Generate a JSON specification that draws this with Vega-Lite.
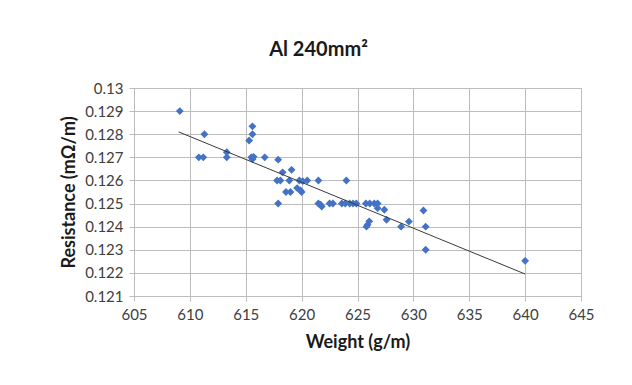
{
  "$schema": "https://vega.github.io/schema/vega-lite/v6.json",
  "autosize": "none",
  "width": 447,
  "height": 208,
  "padding": {"left": 134, "top": 88, "right": 51, "bottom": 89},
  "background": "white",
  "title": {
    "text": "Al 240mm²",
    "font": "Lato",
    "fontSize": 20,
    "fontWeight": "bold",
    "color": "#1a1a1a",
    "anchor": "middle",
    "dx": -39,
    "offset": 21
  },
  "datasets": {
    "pts": [
      {"w": 609.1, "r": 0.1290},
      {"w": 611.3, "r": 0.1280},
      {"w": 610.8, "r": 0.1270},
      {"w": 611.2, "r": 0.1270},
      {"w": 613.3, "r": 0.12722},
      {"w": 613.3, "r": 0.1270},
      {"w": 615.3, "r": 0.12773},
      {"w": 615.6, "r": 0.12834},
      {"w": 615.6, "r": 0.1280},
      {"w": 615.5, "r": 0.1270},
      {"w": 615.6, "r": 0.12692},
      {"w": 615.7, "r": 0.12702},
      {"w": 616.7, "r": 0.1270},
      {"w": 617.9, "r": 0.1269},
      {"w": 617.9, "r": 0.1250},
      {"w": 618.3, "r": 0.12635},
      {"w": 619.1, "r": 0.12646},
      {"w": 617.8, "r": 0.1260},
      {"w": 618.1, "r": 0.1260},
      {"w": 618.9, "r": 0.1260},
      {"w": 619.8, "r": 0.1260},
      {"w": 620.1, "r": 0.12597},
      {"w": 620.5, "r": 0.1260},
      {"w": 618.6, "r": 0.1255},
      {"w": 619.0, "r": 0.1255},
      {"w": 619.6, "r": 0.12567},
      {"w": 619.9, "r": 0.12557},
      {"w": 620.0, "r": 0.1255},
      {"w": 621.5, "r": 0.1260},
      {"w": 621.5, "r": 0.1250},
      {"w": 621.7, "r": 0.12495},
      {"w": 621.8, "r": 0.12487},
      {"w": 622.5, "r": 0.1250},
      {"w": 622.8, "r": 0.1250},
      {"w": 623.6, "r": 0.1250},
      {"w": 623.9, "r": 0.1250},
      {"w": 624.0, "r": 0.1260},
      {"w": 624.3, "r": 0.1250},
      {"w": 624.6, "r": 0.1250},
      {"w": 624.9, "r": 0.1250},
      {"w": 625.75, "r": 0.1250},
      {"w": 626.1, "r": 0.1250},
      {"w": 626.5, "r": 0.1250},
      {"w": 626.8, "r": 0.1250},
      {"w": 626.8, "r": 0.1248},
      {"w": 627.4, "r": 0.12473},
      {"w": 626.05, "r": 0.12423},
      {"w": 625.9, "r": 0.12408},
      {"w": 625.8, "r": 0.1240},
      {"w": 627.6, "r": 0.1243},
      {"w": 628.9, "r": 0.1240},
      {"w": 629.6, "r": 0.12422},
      {"w": 630.9, "r": 0.1247},
      {"w": 631.1, "r": 0.1240},
      {"w": 631.1, "r": 0.1230},
      {"w": 640.0, "r": 0.12252}
    ],
    "trend": [
      {"w": 609.0, "r": 0.12810},
      {"w": 640.0, "r": 0.12195}
    ]
  },
  "encoding": {
    "x": {"field": "w", "type": "quantitative", "title": "Weight (g/m)",
          "scale": {"domain": [605, 645], "nice": false, "zero": false},
          "axis": {"values": [605, 610, 615, 620, 625, 630, 635, 640, 645], "format": "d"}},
    "y": {"field": "r", "type": "quantitative", "title": "Resistance (mΩ/m)",
          "scale": {"domain": [0.121, 0.13], "nice": false, "zero": false},
          "axis": {"values": [0.121, 0.122, 0.123, 0.124, 0.125, 0.126, 0.127, 0.128, 0.129, 0.13], "format": ".3~f"}}
  },
  "layer": [
    {
      "data": {"name": "pts"},
      "mark": {"type": "point", "shape": "diamond", "filled": true, "size": 62, "color": "#4472c4", "opacity": 1}
    },
    {
      "data": {"name": "trend"},
      "mark": {"type": "line", "color": "#3a3a3a", "strokeWidth": 1}
    }
  ],
  "config": {
    "view": {"stroke": "#bdbdbd", "strokeWidth": 1},
    "axis": {
      "grid": true,
      "gridColor": "#bdbdbd",
      "gridOpacity": 1,
      "domainColor": "#bdbdbd",
      "tickColor": "#bdbdbd",
      "tickSize": 5,
      "labelFont": "Lato",
      "labelFontSize": 15,
      "labelColor": "#404040",
      "labelOverlap": false,
      "labelFlush": false,
      "titleFont": "Lato",
      "titleFontSize": 18,
      "titleFontWeight": "bold",
      "titleColor": "#1a1a1a"
    },
    "axisX": {"labelPadding": 6, "titlePadding": 11},
    "axisY": {"labelPadding": 6, "titlePadding": 6}
  }
}
